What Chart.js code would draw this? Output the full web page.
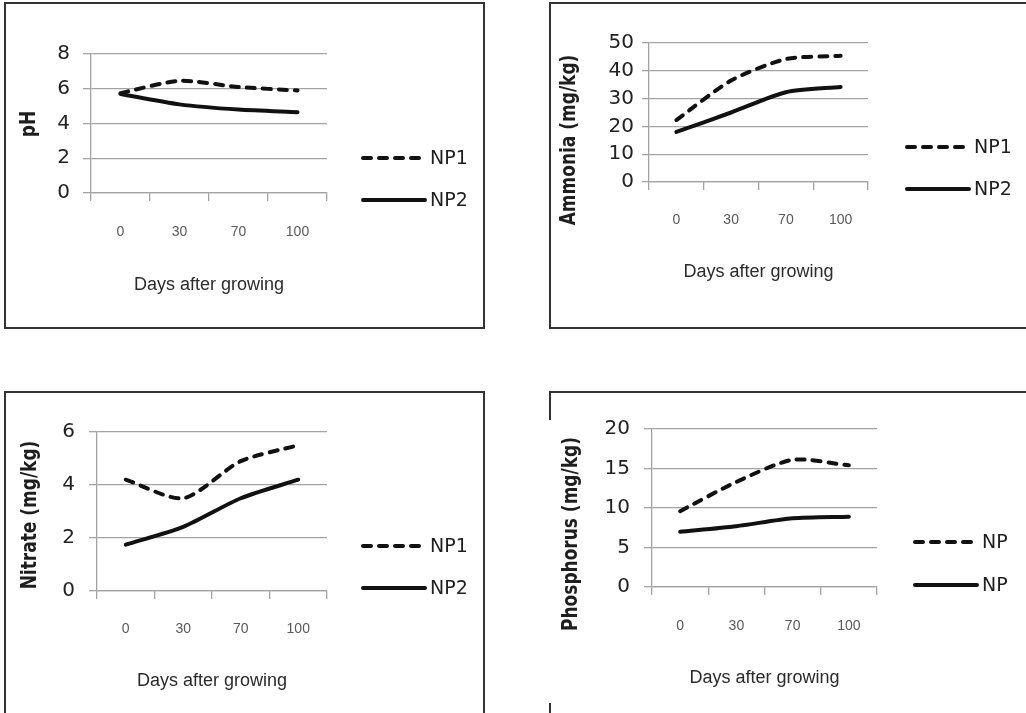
<!DOCTYPE html>
<html lang="en">
<head>
<meta charset="UTF-8">
<title>Soil parameters - days after growing</title>
<style>
    body {
        margin: 0;
        background: #fff;
        width: 1026px;
        height: 713px;
        overflow: hidden;
        position: relative;
        font-family: "DejaVu Sans", sans-serif;
    }

    canvas {
        position: absolute;
    }

    .frame {
        position: absolute;
        box-sizing: border-box;
        border: 2px solid #333;
        pointer-events: none;
    }

    .bar {
        position: absolute;
        background: #333;
    }
</style>
</head>
<body>
    <canvas id="c1" width="481" height="327" style="left:4px;top:2px"></canvas>
    <canvas id="c2" width="477" height="327" style="left:549px;top:2px"></canvas>
    <canvas id="c3" width="481" height="322" style="left:4px;top:391px"></canvas>
    <canvas id="c4" width="477" height="322" style="left:549px;top:391px"></canvas>

    <!-- panel frames -->
    <div class="frame" style="left:4px;top:2px;width:481px;height:327px"></div>
    <div class="frame" style="left:549px;top:2px;width:500px;height:327px;border-right:none"></div>
    <div class="frame" style="left:4px;top:391px;width:481px;height:340px;border-bottom:none"></div>
    <div class="bar" style="left:549px;top:391px;width:480px;height:2px"></div>
    <div class="bar" style="left:549px;top:391px;width:2px;height:29px"></div>
    <div class="bar" style="left:549px;top:703px;width:2px;height:10px"></div>

    <script src="https://cdn.jsdelivr.net/npm/chart.js"></script>
    <script>
        // categories
        const days = ['0', '30', '70', '100'];

        // values
        const phNP1 = [5.75, 6.45, 6.1, 5.9];
        const phNP2 = [5.7, 5.1, 4.8, 4.65];
        const ammoniaNP1 = [22.3, 36.5, 44.2, 45.4];
        const ammoniaNP2 = [18, 25, 32.3, 34.2];
        const nitrateNP1 = [4.2, 3.5, 4.9, 5.5];
        const nitrateNP2 = [1.75, 2.42, 3.5, 4.2];
        const phosNP1 = [9.6, 13.3, 16.1, 15.4];
        const phosNP2 = [7.0, 7.7, 8.7, 8.9];

        // legend labels (the last panel shows them cut off)
        const legendFull = ['NP1', 'NP2'];
        const legendCut = ['NP', 'NP'];

        const lineColor = '#111';
        const gridColor = '#a3a3a3';

        // y axis title + legend drawn next to the plot
        const panelDecor = {
            id: 'panelDecor',
            afterDraw(chart, args, opts) {
                const ctx = chart.ctx;
                ctx.save();
                ctx.translate(opts.titleX, opts.titleY);
                ctx.rotate(-Math.PI / 2);
                ctx.scale(1, 1.2); // the source figure is a bit stretched sideways
                ctx.font = 'bold 17px "DejaVu Sans"';
                ctx.fillStyle = '#1e1e1e';
                ctx.textAlign = 'center';
                ctx.textBaseline = 'middle';
                ctx.fillText(opts.title, 0, 0);
                ctx.restore();

                chart.data.datasets.forEach((ds, i) => {
                    const y = opts.legendY[i];
                    ctx.save();
                    ctx.strokeStyle = ds.borderColor;
                    ctx.lineWidth = ds.borderWidth;
                    ctx.lineCap = 'round';
                    ctx.setLineDash(ds.borderDash || []);
                    ctx.beginPath();
                    ctx.moveTo(opts.legendX, y);
                    ctx.lineTo(opts.legendX + 62, y);
                    ctx.stroke();
                    ctx.setLineDash([]);
                    ctx.font = '19px "DejaVu Sans"';
                    ctx.fillStyle = '#1e1e1e';
                    ctx.textAlign = 'left';
                    ctx.textBaseline = 'middle';
                    ctx.fillText(ds.label, opts.legendX + 67, y + 1);
                    ctx.restore();
                });
            }
        };

        function makeChart(id, p) {
            const ctx = document.getElementById(id).getContext('2d');
            return new Chart(ctx, {
                type: 'line',
                data: {
                    labels: days,
                    datasets: [{
                        label: p.names[0],
                        data: p.s1,
                        borderColor: lineColor,
                        borderWidth: 4,
                        borderDash: [8, 8],
                        borderCapStyle: 'round',
                        borderJoinStyle: 'round',
                        pointRadius: 0,
                        tension: 0.25,
                        fill: false
                    }, {
                        label: p.names[1],
                        data: p.s2,
                        borderColor: lineColor,
                        borderWidth: 4,
                        borderCapStyle: 'round',
                        borderJoinStyle: 'round',
                        pointRadius: 0,
                        tension: 0.25,
                        fill: false
                    }]
                },
                options: {
                    responsive: false,
                    animation: false,
                    devicePixelRatio: 1,
                    layout: { padding: { left: 0, top: p.top, right: p.right, bottom: 0 } },
                    plugins: {
                        legend: { display: false },
                        tooltip: { enabled: false },
                        panelDecor: {
                            title: p.title,
                            titleX: p.titleX,
                            titleY: p.titleY,
                            legendX: p.legendX,
                            legendY: p.legendY
                        }
                    },
                    scales: {
                        x: {
                            type: 'category',
                            offset: true,
                            grid: {
                                offset: true,
                                drawOnChartArea: false,
                                drawTicks: true,
                                tickLength: 8,
                                color: gridColor,
                                lineWidth: 1.3
                            },
                            border: { display: true, color: gridColor, width: 1.3 },
                            ticks: {
                                font: { family: '"Liberation Sans"', size: 14 },
                                color: '#595959',
                                padding: p.xPad,
                                maxRotation: 0
                            },
                            title: {
                                display: true,
                                text: 'Days after growing',
                                font: { family: '"Liberation Sans"', size: 18 },
                                color: '#2b2b2b',
                                padding: { top: 0, bottom: p.xTitleBottom }
                            },
                            afterFit(s) { s.height = p.xH; }
                        },
                        y: {
                            min: p.min,
                            max: p.max,
                            grid: { color: gridColor, lineWidth: 1.3, tickLength: p.yTick },
                            border: { display: true, color: gridColor, width: 1.3 },
                            ticks: {
                                stepSize: p.step,
                                padding: p.yPad,
                                font: { family: '"DejaVu Sans"', size: 20 },
                                color: '#222'
                            },
                            afterFit(s) { s.width = p.yW; }
                        }
                    }
                },
                plugins: [panelDecor]
            });
        }

        makeChart('c1', {
            names: legendFull, s1: phNP1, s2: phNP2,
            min: 0, max: 8, step: 2, title: 'pH',
            top: 52, right: 158, yW: 87, xH: 136, xPad: 23, xTitleBottom: 33,
            yTick: 8, yPad: 13,
            titleX: 26, titleY: 122, legendX: 359, legendY: [156, 198]
        });

        makeChart('c2', {
            names: legendFull, s1: ammoniaNP1, s2: ammoniaNP2,
            min: 0, max: 50, step: 10, title: 'Ammonia (mg/kg)',
            top: 41, right: 158, yW: 100, xH: 147, xPad: 22, xTitleBottom: 46,
            yTick: 7, yPad: 8,
            titleX: 21, titleY: 138, legendX: 358, legendY: [145, 187]
        });

        makeChart('c3', {
            names: legendFull, s1: nitrateNP1, s2: nitrateNP2,
            min: 0, max: 6, step: 2, title: 'Nitrate (mg/kg)',
            top: 41, right: 158, yW: 93, xH: 122, xPad: 22, xTitleBottom: 21,
            yTick: 8, yPad: 14,
            titleX: 27, titleY: 124, legendX: 359, legendY: [155, 197]
        });

        makeChart('c4', {
            names: legendCut, s1: phosNP1, s2: phosNP2,
            min: 0, max: 20, step: 5, title: 'Phosphorus (mg/kg)',
            top: 38, right: 149, yW: 103, xH: 126, xPad: 23, xTitleBottom: 24,
            yTick: 8, yPad: 14,
            titleX: 23, titleY: 143, legendX: 366, legendY: [151, 194]
        });
    </script>
</body>
</html>
